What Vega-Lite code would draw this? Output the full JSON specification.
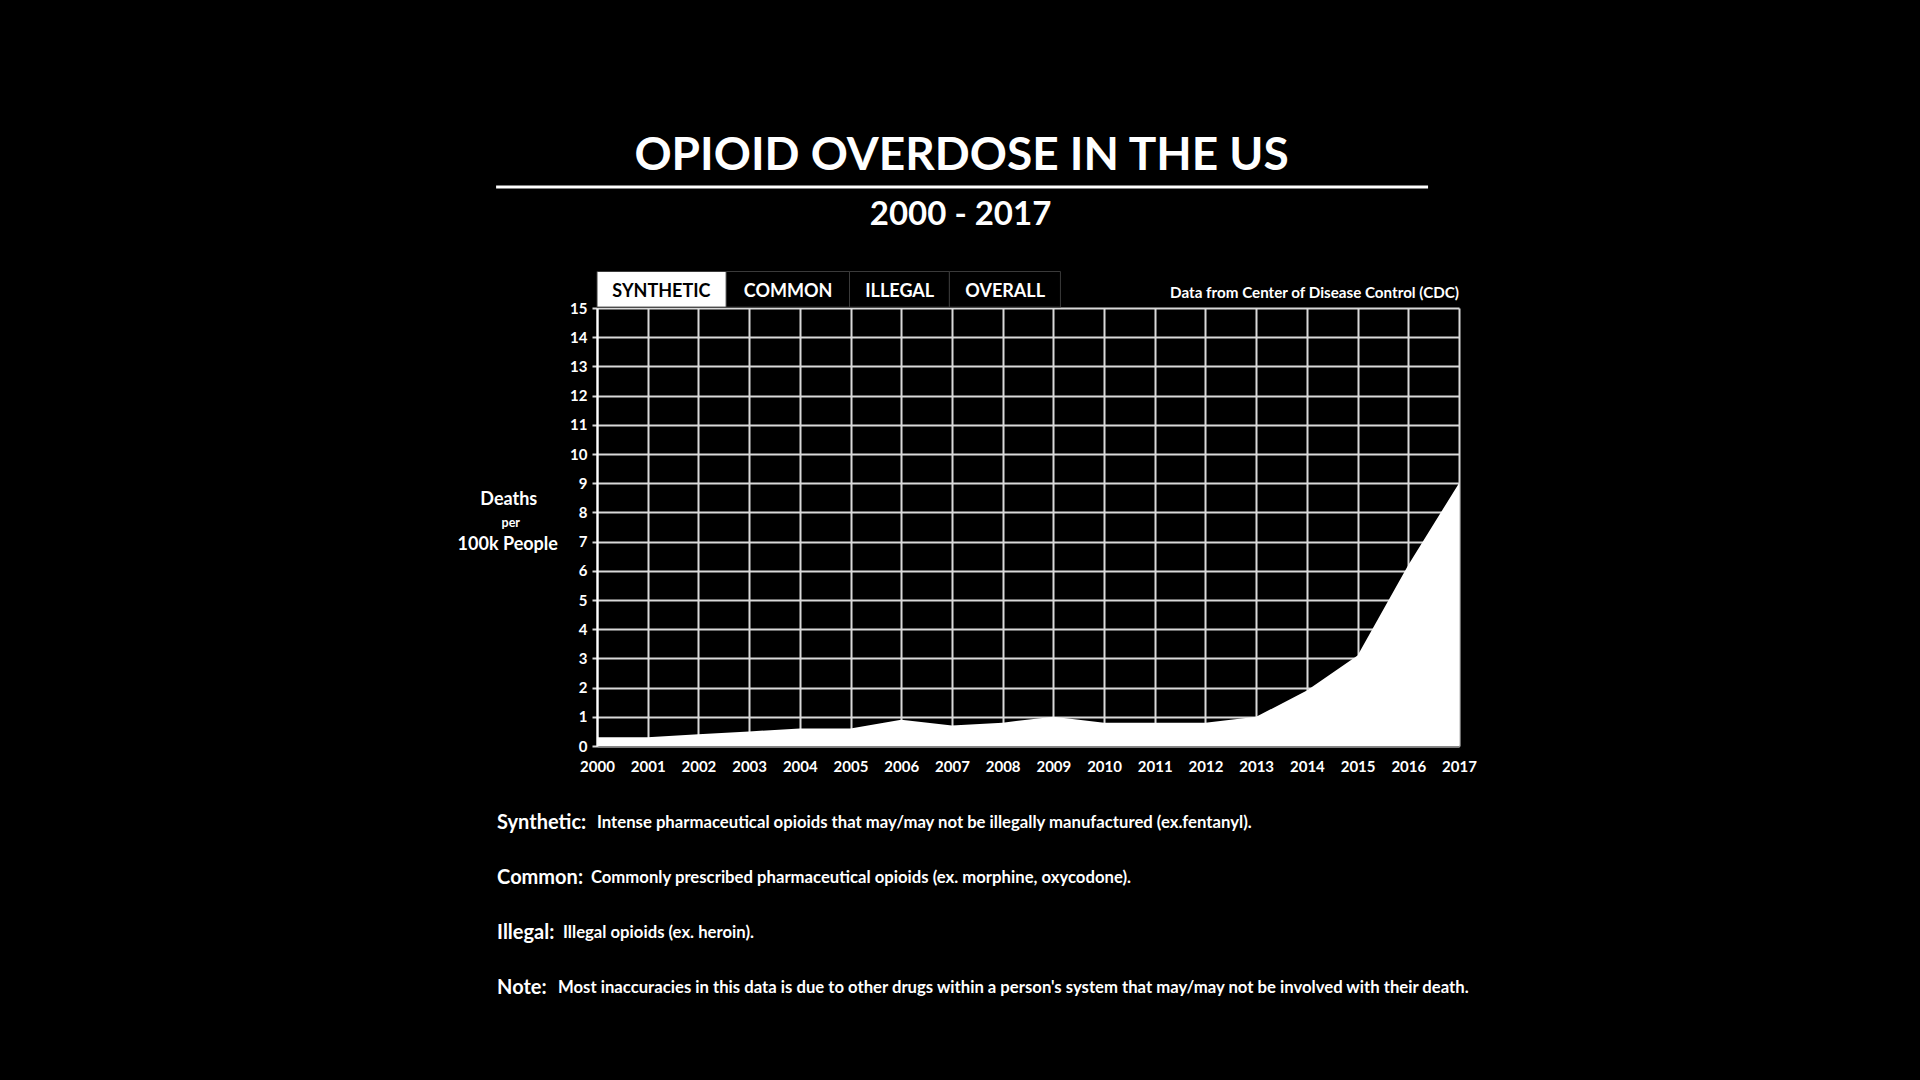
{
  "$schema": "https://vega.github.io/schema/vega-lite/v6.json",
  "width": 862,
  "height": 438,
  "autosize": {"type": "none"},
  "padding": {"left": 597, "top": 308, "right": 461, "bottom": 334},
  "background": "black",
  "config": {"view": {"stroke": null}, "font": "Lato", "text": {"font": "Lato", "fontWeight": "bold", "color": "white", "baseline": "middle"}},
  "resolve": {"scale": {"x": "independent", "y": "independent"}, "axis": {"x": "independent", "y": "independent"}},
  "layer": [
    {
      "data": {"values": [
        {"year": 2000, "rate": 0.3}, {"year": 2001, "rate": 0.3}, {"year": 2002, "rate": 0.4},
        {"year": 2003, "rate": 0.5}, {"year": 2004, "rate": 0.6}, {"year": 2005, "rate": 0.6},
        {"year": 2006, "rate": 0.9}, {"year": 2007, "rate": 0.7}, {"year": 2008, "rate": 0.8},
        {"year": 2009, "rate": 1.0}, {"year": 2010, "rate": 0.8}, {"year": 2011, "rate": 0.8},
        {"year": 2012, "rate": 0.8}, {"year": 2013, "rate": 1.0}, {"year": 2014, "rate": 1.9},
        {"year": 2015, "rate": 3.1}, {"year": 2016, "rate": 6.2}, {"year": 2017, "rate": 9.0}
      ]},
      "mark": {"type": "area", "color": "white", "opacity": 1},
      "encoding": {
        "x": {"field": "year", "type": "quantitative",
              "scale": {"domain": [2000, 2017], "nice": false, "zero": false},
              "axis": {"title": null, "values": [2000,2001,2002,2003,2004,2005,2006,2007,2008,2009,2010,2011,2012,2013,2014,2015,2016,2017],
                       "format": "d", "grid": true, "gridColor": "#d9d9d9", "gridWidth": 2, "ticks": false,
                       "labelPadding": 13, "labelFont": "Lato", "labelFontWeight": "bold", "labelFontSize": 15,
                       "labelColor": "white", "labelFlush": false, "labelOverlap": false,
                       "domainColor": "#888888", "domainWidth": 2}},
        "y": {"field": "rate", "type": "quantitative",
              "scale": {"domain": [0, 15], "nice": false, "zero": true},
              "axis": {"title": null, "tickCount": 15, "tickMinStep": 1, "format": "d",
                       "grid": true, "gridColor": "#d9d9d9", "gridWidth": 2, "ticks": true, "tickSize": 5,
                       "tickColor": "#d9d9d9", "tickWidth": 2, "labelPadding": 5,
                       "labelFont": "Lato", "labelFontWeight": "bold", "labelFontSize": 15,
                       "labelColor": "white", "labelFlush": false, "labelOverlap": false, "labelBound": false,
                       "domainColor": "white", "domainWidth": 2}}
      }
    },
    {
      "data": {"values": [{}]},
      "layer": [
        {"mark": {"type": "text", "text": "OPIOID OVERDOSE IN THE US", "fontSize": 46, "align": "center"},
         "encoding": {"x": {"datum": 2007.19, "type": "quantitative", "axis": null, "scale": {"domain": [2000, 2017], "nice": false, "zero": false}},
                      "y": {"datum": 20.2, "type": "quantitative", "axis": null, "scale": {"domain": [0, 15], "nice": false, "zero": false}}}},
        {"mark": {"type": "rule", "color": "white", "strokeWidth": 3},
         "encoding": {"x": {"datum": 1998.01, "type": "quantitative", "axis": null}, "x2": {"datum": 2016.39}, "y": {"datum": 19.14, "type": "quantitative", "axis": null}}},
        {"mark": {"type": "text", "text": "2000 - 2017", "fontSize": 33, "align": "center"},
         "encoding": {"x": {"datum": 2007.17, "type": "quantitative", "axis": null}, "y": {"datum": 18.2, "type": "quantitative", "axis": null}}},
        {"mark": {"type": "rect", "fill": "white", "stroke": "#3a3a3a", "strokeWidth": 1},
         "encoding": {"x": {"datum": 2000, "type": "quantitative", "axis": null}, "x2": {"datum": 2002.55}, "y": {"datum": 15.03, "type": "quantitative", "axis": null}, "y2": {"datum": 16.25}}},
        {"mark": {"type": "rect", "fill": "black", "stroke": "#3a3a3a", "strokeWidth": 1},
         "encoding": {"x": {"datum": 2002.55, "type": "quantitative", "axis": null}, "x2": {"datum": 2004.98}, "y": {"datum": 15.03, "type": "quantitative", "axis": null}, "y2": {"datum": 16.25}}},
        {"mark": {"type": "rect", "fill": "black", "stroke": "#3a3a3a", "strokeWidth": 1},
         "encoding": {"x": {"datum": 2004.98, "type": "quantitative", "axis": null}, "x2": {"datum": 2006.95}, "y": {"datum": 15.03, "type": "quantitative", "axis": null}, "y2": {"datum": 16.25}}},
        {"mark": {"type": "rect", "fill": "black", "stroke": "#3a3a3a", "strokeWidth": 1},
         "encoding": {"x": {"datum": 2006.95, "type": "quantitative", "axis": null}, "x2": {"datum": 2009.14}, "y": {"datum": 15.03, "type": "quantitative", "axis": null}, "y2": {"datum": 16.25}}},
        {"mark": {"type": "text", "text": "SYNTHETIC", "fontSize": 18, "align": "center", "color": "black"},
         "encoding": {"x": {"datum": 2001.27, "type": "quantitative", "axis": null}, "y": {"datum": 15.56, "type": "quantitative", "axis": null}}},
        {"mark": {"type": "text", "text": "COMMON", "fontSize": 18, "align": "center"},
         "encoding": {"x": {"datum": 2003.77, "type": "quantitative", "axis": null}, "y": {"datum": 15.56, "type": "quantitative", "axis": null}}},
        {"mark": {"type": "text", "text": "ILLEGAL", "fontSize": 18, "align": "center"},
         "encoding": {"x": {"datum": 2005.97, "type": "quantitative", "axis": null}, "y": {"datum": 15.56, "type": "quantitative", "axis": null}}},
        {"mark": {"type": "text", "text": "OVERALL", "fontSize": 18, "align": "center"},
         "encoding": {"x": {"datum": 2008.05, "type": "quantitative", "axis": null}, "y": {"datum": 15.56, "type": "quantitative", "axis": null}}},
        {"mark": {"type": "text", "text": "Data from Center of Disease Control (CDC)", "fontSize": 15.2, "align": "right"},
         "encoding": {"x": {"datum": 2017, "type": "quantitative", "axis": null}, "y": {"datum": 15.52, "type": "quantitative", "axis": null}}},
        {"mark": {"type": "text", "text": "Deaths", "fontSize": 18, "align": "center"},
         "encoding": {"x": {"datum": 1998.26, "type": "quantitative", "axis": null}, "y": {"datum": 8.41, "type": "quantitative", "axis": null}}},
        {"mark": {"type": "text", "text": "per", "fontSize": 12.5, "align": "center"},
         "encoding": {"x": {"datum": 1998.3, "type": "quantitative", "axis": null}, "y": {"datum": 7.63, "type": "quantitative", "axis": null}}},
        {"mark": {"type": "text", "text": "100k People", "fontSize": 18, "align": "center"},
         "encoding": {"x": {"datum": 1998.24, "type": "quantitative", "axis": null}, "y": {"datum": 6.9, "type": "quantitative", "axis": null}}},
        {"mark": {"type": "text", "text": "Synthetic:", "fontSize": 20, "align": "left"},
         "encoding": {"x": {"datum": 1998.03, "type": "quantitative", "axis": null}, "y": {"datum": -2.62, "type": "quantitative", "axis": null}}},
        {"mark": {"type": "text", "text": "Intense pharmaceutical opioids that may/may not be illegally manufactured (ex.fentanyl).", "fontSize": 16.7, "align": "left"},
         "encoding": {"x": {"datum": 2000.0, "type": "quantitative", "axis": null}, "y": {"datum": -2.62, "type": "quantitative", "axis": null}}},
        {"mark": {"type": "text", "text": "Common:", "fontSize": 20, "align": "left"},
         "encoding": {"x": {"datum": 1998.03, "type": "quantitative", "axis": null}, "y": {"datum": -4.52, "type": "quantitative", "axis": null}}},
        {"mark": {"type": "text", "text": "Commonly prescribed pharmaceutical opioids (ex. morphine, oxycodone).", "fontSize": 16.7, "align": "left"},
         "encoding": {"x": {"datum": 1999.88, "type": "quantitative", "axis": null}, "y": {"datum": -4.52, "type": "quantitative", "axis": null}}},
        {"mark": {"type": "text", "text": "Illegal:", "fontSize": 20, "align": "left"},
         "encoding": {"x": {"datum": 1998.03, "type": "quantitative", "axis": null}, "y": {"datum": -6.41, "type": "quantitative", "axis": null}}},
        {"mark": {"type": "text", "text": "Illegal opioids (ex. heroin).", "fontSize": 16.7, "align": "left"},
         "encoding": {"x": {"datum": 1999.33, "type": "quantitative", "axis": null}, "y": {"datum": -6.41, "type": "quantitative", "axis": null}}},
        {"mark": {"type": "text", "text": "Note:", "fontSize": 20, "align": "left"},
         "encoding": {"x": {"datum": 1998.03, "type": "quantitative", "axis": null}, "y": {"datum": -8.3, "type": "quantitative", "axis": null}}},
        {"mark": {"type": "text", "text": "Most inaccuracies in this data is due to other drugs within a person's system that may/may not be involved with their death.", "fontSize": 16.7, "align": "left"},
         "encoding": {"x": {"datum": 1999.23, "type": "quantitative", "axis": null}, "y": {"datum": -8.3, "type": "quantitative", "axis": null}}}
      ]
    }
  ]
}
